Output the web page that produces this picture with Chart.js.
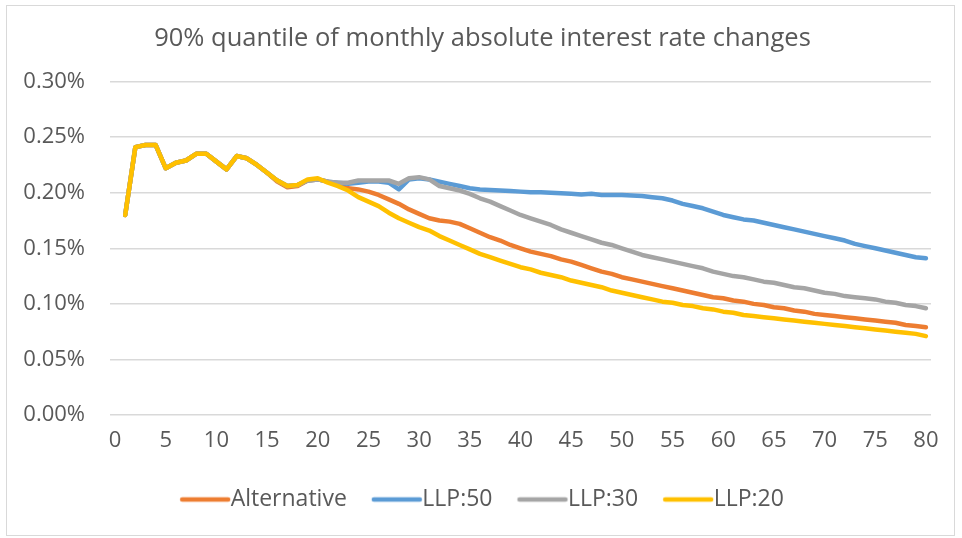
<!DOCTYPE html>
<html>
<head>
<meta charset="utf-8">
<script src="https://cdn.jsdelivr.net/npm/chart.js@4.4.1/dist/chart.umd.min.js"></script>
<style>
  html, body { margin: 0; padding: 0; background: #fff; }
  #wrap { position: absolute; left: 6px; top: 5px; width: 947px; height: 529px; border: 1px solid #d9d9d9; }
</style>
</head>
<body>
<div id="wrap"><canvas id="chart"></canvas></div>
<script>
// horizon 0..80 (0 has no value)
const horizons = [];
for (let i = 0; i <= 80; i++) horizons.push(String(i));

// values in percent, index 1..80
const alternative = [null,
  0.180, 0.241, 0.243, 0.243, 0.222, 0.227, 0.229, 0.235, 0.235, 0.228,
  0.221, 0.233, 0.231, 0.225, 0.218, 0.210, 0.205, 0.206, 0.211, 0.212,
  0.210, 0.207, 0.204, 0.203, 0.201, 0.198, 0.194, 0.190, 0.185, 0.181,
  0.177, 0.175, 0.174, 0.172, 0.168, 0.164, 0.160, 0.157, 0.153, 0.150,
  0.147, 0.145, 0.143, 0.140, 0.138, 0.135, 0.132, 0.129, 0.127, 0.124,
  0.122, 0.120, 0.118, 0.116, 0.114, 0.112, 0.110, 0.108, 0.106, 0.105,
  0.103, 0.102, 0.100, 0.099, 0.097, 0.096, 0.094, 0.093, 0.091, 0.090,
  0.089, 0.088, 0.087, 0.086, 0.085, 0.084, 0.083, 0.081, 0.080, 0.079];

const llp50 = [null,
  0.180, 0.241, 0.243, 0.243, 0.222, 0.227, 0.229, 0.235, 0.235, 0.228,
  0.221, 0.233, 0.231, 0.225, 0.218, 0.211, 0.206, 0.207, 0.211, 0.212,
  0.210, 0.209, 0.208, 0.209, 0.210, 0.210, 0.209, 0.203, 0.212, 0.213,
  0.212, 0.210, 0.208, 0.206, 0.204, 0.203, 0.2025, 0.202, 0.2015, 0.201,
  0.2005, 0.2005, 0.200, 0.1995, 0.199, 0.1985, 0.199, 0.198, 0.198, 0.198,
  0.1975, 0.197, 0.196, 0.195, 0.193, 0.190, 0.188, 0.186, 0.183, 0.180,
  0.178, 0.176, 0.175, 0.173, 0.171, 0.169, 0.167, 0.165, 0.163, 0.161,
  0.159, 0.157, 0.154, 0.152, 0.150, 0.148, 0.146, 0.144, 0.142, 0.141];

const llp30 = [null,
  0.180, 0.241, 0.243, 0.243, 0.222, 0.227, 0.229, 0.235, 0.235, 0.228,
  0.221, 0.233, 0.231, 0.225, 0.218, 0.211, 0.206, 0.207, 0.211, 0.212,
  0.210, 0.209, 0.209, 0.211, 0.211, 0.211, 0.211, 0.208, 0.213, 0.214,
  0.212, 0.206, 0.204, 0.202, 0.199, 0.195, 0.192, 0.188, 0.184, 0.180,
  0.177, 0.174, 0.171, 0.167, 0.164, 0.161, 0.158, 0.155, 0.153, 0.150,
  0.147, 0.144, 0.142, 0.140, 0.138, 0.136, 0.134, 0.132, 0.129, 0.127,
  0.125, 0.124, 0.122, 0.120, 0.119, 0.117, 0.115, 0.114, 0.112, 0.110,
  0.109, 0.107, 0.106, 0.105, 0.104, 0.102, 0.101, 0.099, 0.098, 0.096];

const llp20 = [null,
  0.180, 0.241, 0.243, 0.243, 0.222, 0.227, 0.229, 0.235, 0.235, 0.228,
  0.221, 0.233, 0.231, 0.225, 0.218, 0.211, 0.206, 0.207, 0.212, 0.213,
  0.209, 0.206, 0.202, 0.196, 0.192, 0.188, 0.182, 0.177, 0.173, 0.169,
  0.166, 0.161, 0.157, 0.153, 0.149, 0.145, 0.142, 0.139, 0.136, 0.133,
  0.131, 0.128, 0.126, 0.124, 0.121, 0.119, 0.117, 0.115, 0.112, 0.110,
  0.108, 0.106, 0.104, 0.102, 0.101, 0.099, 0.098, 0.096, 0.095, 0.093,
  0.092, 0.090, 0.089, 0.088, 0.087, 0.086, 0.085, 0.084, 0.083, 0.082,
  0.081, 0.080, 0.079, 0.078, 0.077, 0.076, 0.075, 0.074, 0.073, 0.071];

const yTicks = [0, 0.05, 0.10, 0.15, 0.20, 0.25, 0.30];

const FONT = "'Open Sans', 'DejaVu Sans', sans-serif";
const TEXT = '#595959';

// legend symbol: a short line that sits close to its text
function legendGlyph(color) {
  const c = document.createElement('canvas');
  c.width = 64;
  c.height = 8;
  const g = c.getContext('2d');
  g.strokeStyle = color;
  g.lineWidth = 4.5;
  g.lineCap = 'round';
  g.beginPath();
  g.moveTo(14, 4);
  g.lineTo(60, 4);
  g.stroke();
  return c;
}

function line(label, data, color, order) {
  return {
    label: label, data: data, borderColor: color, backgroundColor: color,
    borderWidth: 4.5, pointRadius: 0, pointHoverRadius: 0, pointStyle: legendGlyph(color),
    tension: 0, borderCapStyle: 'round', borderJoinStyle: 'round', fill: false, order: order
  };
}

const ctx = document.getElementById('chart').getContext('2d');
new Chart(ctx, {
  type: 'line',
  data: {
    labels: horizons,
    datasets: [
      line('Alternative', alternative, '#ED7D31', 3),
      line('LLP:50', llp50, '#5B9BD5', 2),
      line('LLP:30', llp30, '#A5A5A5', 1),
      line('LLP:20', llp20, '#FFC000', 0)
    ]
  },
  options: {
    responsive: true,
    maintainAspectRatio: false,
    animation: false,
    layout: {padding: {left: 12, right: 8, top: 0, bottom: 14}},
    plugins: {
      title: {
        display: true,
        text: '90% quantile of monthly absolute interest rate changes',
        color: TEXT,
        font: {family: FONT, size: 25.5, weight: 'normal'},
        padding: {top: 17, bottom: 28}
      },
      legend: {
        position: 'bottom',
        labels: {
          color: TEXT,
          font: {family: FONT, size: 23},
          usePointStyle: true,
          pointStyleWidth: 38,
          boxHeight: 20,
          padding: 26,
          sort: (a, b) => a.datasetIndex - b.datasetIndex
        }
      },
      tooltip: {enabled: false}
    },
    scales: {
      x: {
        type: 'category',
        offset: true,
        grid: {display: false, drawTicks: false},
        border: {display: false},
        afterFit: (scale) => { scale.height = 47; },
        ticks: {
          color: TEXT,
          font: {family: FONT, size: 22},
          autoSkip: false,
          maxRotation: 0,
          padding: 13,
          callback: (v, i) => (i % 5 === 0 ? horizons[i] : null)
        }
      },
      y: {
        min: 0,
        max: 0.30,
        afterBuildTicks: (scale) => { scale.ticks = yTicks.map(v => ({value: v})); },
        afterFit: (scale) => { scale.width = 91; },
        grid: {color: '#d9d9d9', lineWidth: 1.5, drawTicks: false},
        border: {display: false},
        ticks: {
          color: TEXT,
          font: {family: FONT, size: 22},
          padding: 25,
          callback: (v) => v.toFixed(2) + '%'
        }
      },
      // empty right margin so the title stays centred as in the original
      yRight: {
        position: 'right',
        grid: {display: false, drawTicks: false},
        border: {display: false},
        ticks: {display: false},
        afterFit: (scale) => { scale.width = 15; }
      }
    }
  }
});
</script>
</body>
</html>
